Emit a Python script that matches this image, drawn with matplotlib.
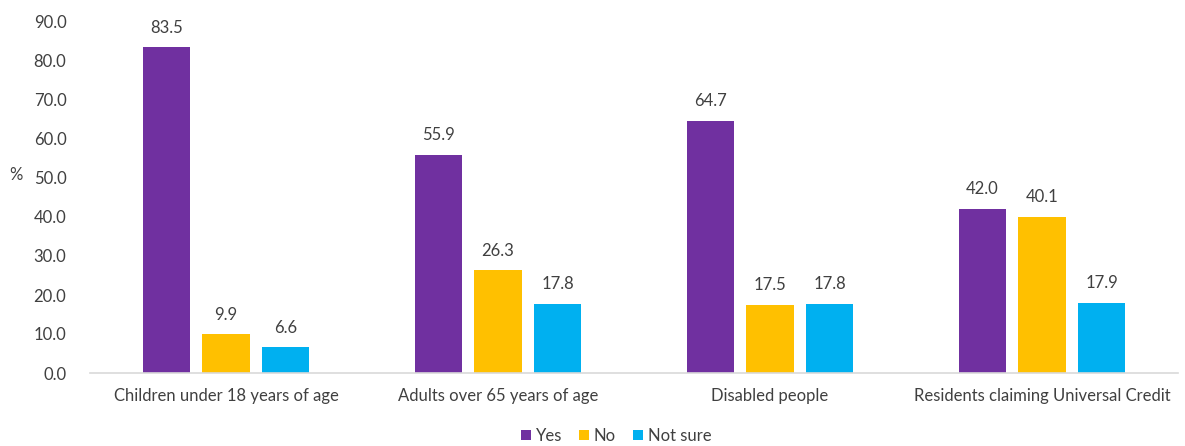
import matplotlib
matplotlib.use("Agg")
import matplotlib.pyplot as plt
import numpy as np

categories = ["Children under 18 years of age", "Adults over 65 years of age",
              "Disabled people", "Residents claiming Universal Credit"]
series_names = ["Yes", "No", "Not sure"]
yes_vals = [83.5, 55.9, 64.7, 42.0]
no_vals = [9.9, 26.3, 17.5, 40.1]
notsure_vals = [6.6, 17.8, 17.8, 17.9]
colors = ["#7030A0", "#FFC000", "#00B0F0"]
yticks = [0, 10, 20, 30, 40, 50, 60, 70, 80, 90]

plt.rcParams['font.family'] = ['Lato', 'DejaVu Sans']
txt = "#404040"
fs = 12

fig = plt.figure(figsize=(11.85, 4.46), dpi=100)
ax = fig.add_axes([90/1185, 1-373/446, (1178-90)/1185, (373-22)/446])

x = np.arange(len(categories))
width = 0.173
step = 0.22
for i, (vals, name, c) in enumerate(zip([yes_vals, no_vals, notsure_vals], series_names, colors)):
    pos = x + (i - 1) * step
    bars = ax.bar(pos, vals, width, color=c, label=name)
    for p, v in zip(pos, vals):
        ax.text(p, v + 3.0, f"{v:.1f}", ha="center", va="bottom", fontsize=fs, color=txt)

ax.set_xlim(-0.5, len(categories) - 0.5)
ax.set_ylim(0, 90)
ax.set_yticks(yticks)
ax.set_yticklabels([f"{t:.1f}" for t in yticks], fontsize=fs, color=txt)
ax.set_xticks(x)
ax.set_xticklabels(categories, fontsize=fs, color=txt)
ax.tick_params(axis="both", length=0)
ax.tick_params(axis="y", pad=17)
ax.tick_params(axis="x", pad=11)
for s in ["top", "right", "left"]:
    ax.spines[s].set_visible(False)
ax.spines["bottom"].set_color("#D9D9D9")
ax.spines["bottom"].set_linewidth(1.2)

fig.text(16/1185, 1-175/446, "%", fontsize=fs, color=txt, ha="center", va="center")

leg = fig.legend(loc="center", bbox_to_anchor=(616/1185, 1-436/446), ncol=3, frameon=False,
                 fontsize=fs, handlelength=0.6, handleheight=0.6, handletextpad=0.3,
                 columnspacing=1.0, labelcolor=txt)

fig.savefig("out.png", dpi=100, facecolor="white")
